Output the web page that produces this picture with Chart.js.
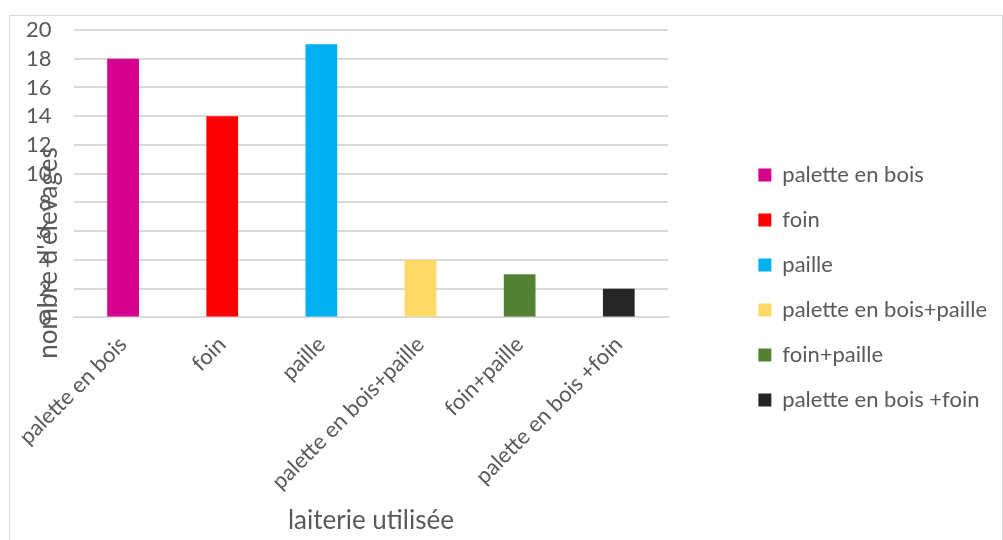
<!DOCTYPE html>
<html>
<head>
<meta charset="utf-8">
<script src="https://cdn.jsdelivr.net/npm/chart.js@4"></script>
<style>
  html, body { margin: 0; padding: 0; background: #fff; }
  #frame { position: absolute; left: 9px; top: 15px; width: 992px; height: 540px; border: 1px solid #d9d9d9; }
  #wrap { position: absolute; left: 0; top: 0; width: 1003px; height: 540px; }
</style>
</head>
<body>
<div id="frame"></div>
<div id="wrap"><canvas id="litiereChart"></canvas></div>
<script>
const categories = ['palette en bois', 'foin', 'paille', 'palette en bois+paille', 'foin+paille', 'palette en bois +foin'];
const counts = [18, 14, 19, 4, 3, 2];
const barColors = ['#d6008f', '#ff0000', '#00b0f0', '#ffd966', '#548235', '#262626'];
const yMin = 0;
const yMax = 20;
const yStep = 2;
const xTitle = 'laiterie utilisée';
const yTitle = "nombre d'élevages";

const textColor = '#595959';
const gridColor = '#d9d9d9';
const fontFamily = 'Lato, "Open Sans", sans-serif';

// y title is painted by hand so it sits over the tick labels, a bit below the middle
const yTitlePlugin = {
    id: 'yTitle',
    afterLayout(chart) {
        // push the legend column a little lower
        chart.legend.top += 9;
    },
    afterDraw(chart) {
        const ctx = chart.ctx;
        const area = chart.chartArea;
        ctx.save();
        ctx.translate(area.left - 25, area.top + (area.bottom - area.top) * 0.776);
        ctx.rotate(-Math.PI / 2);
        ctx.font = '26px ' + fontFamily;
        ctx.fillStyle = textColor;
        ctx.textAlign = 'center';
        ctx.textBaseline = 'middle';
        ctx.fillText(yTitle, 0, 0);
        ctx.restore();
    }
};

const ctx = document.getElementById('litiereChart').getContext('2d');
new Chart(ctx, {
    type: 'bar',
    data: {
        labels: categories,
        datasets: [{
            label: yTitle,
            data: counts,
            backgroundColor: barColors,
            borderWidth: 0,
            barPercentage: 0.32,
            categoryPercentage: 1
        }]
    },
    options: {
        responsive: true,
        maintainAspectRatio: false,
        animation: false,
        layout: {
            autoPadding: false,
            padding: { top: 30, left: 4, right: 6, bottom: 4 }
        },
        plugins: {
            tooltip: { enabled: false },
            legend: {
                position: 'right',
                maxWidth: 320,
                labels: {
                    boxWidth: 13,
                    boxHeight: 13,
                    padding: 23,
                    color: textColor,
                    font: { family: fontFamily, size: 22 },
                    generateLabels: chart => categories.map((name, i) => ({
                        text: name,
                        fillStyle: barColors[i],
                        strokeStyle: barColors[i],
                        lineWidth: 0,
                        fontColor: textColor,
                        index: i
                    }))
                }
            }
        },
        scales: {
            x: {
                grid: { display: false },
                border: { color: gridColor, width: 2 },
                ticks: {
                    color: textColor,
                    font: { family: fontFamily, size: 22 },
                    minRotation: 45,
                    maxRotation: 45,
                    padding: 6
                },
                title: {
                    display: true,
                    text: xTitle,
                    color: textColor,
                    font: { family: fontFamily, size: 26 },
                    padding: { top: 4, bottom: 0 }
                }
            },
            y: {
                min: yMin,
                max: yMax,
                border: { display: false },
                grid: { color: gridColor, lineWidth: 2, drawTicks: false },
                ticks: {
                    stepSize: yStep,
                    autoSkip: false,
                    color: textColor,
                    font: { family: fontFamily, size: 22 },
                    padding: 22
                },
                afterFit(scale) {
                    // the tick padding would otherwise push the plot top down
                    scale.paddingTop = 0;
                    scale.paddingBottom = 0;
                }
            },
            gap: {
                position: 'right',
                grid: { display: false },
                border: { display: false },
                ticks: { display: false },
                afterFit(scale) { scale.width = 67; }
            }
        }
    },
    plugins: [yTitlePlugin]
});
</script>
</body>
</html>
